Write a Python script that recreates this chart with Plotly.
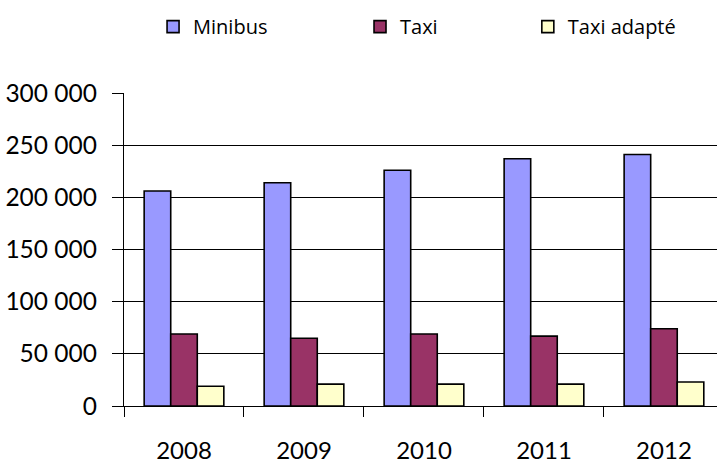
import plotly.graph_objects as go

years = ["2008", "2009", "2010", "2011", "2012"]
minibus = [206000, 214000, 226000, 237000, 241000]
taxi = [69000, 65000, 69000, 67000, 74000]
taxi_adapte = [19000, 21000, 21000, 21000, 23000]
y_ticks = [0, 50000, 100000, 150000, 200000, 250000, 300000]
y_tick_labels = ["0", "50 000", "100 000", "150 000", "200 000", "250 000", "300 000"]

FONT = "Lato, sans-serif"
LEG_FONT = "Open Sans, sans-serif"

fig = go.Figure()
fig.add_trace(go.Bar(x=years, y=minibus, name="Minibus", legend="legend", showlegend=True,
                     marker=dict(color="#9999FF", line=dict(color="#000000", width=1.6))))
fig.add_trace(go.Bar(x=years, y=taxi, name="Taxi", legend="legend2", showlegend=True,
                     marker=dict(color="#993366", line=dict(color="#000000", width=1.6))))
fig.add_trace(go.Bar(x=years, y=taxi_adapte, name="Taxi adapté", legend="legend3", showlegend=True,
                     marker=dict(color="#FFFFCC", line=dict(color="#000000", width=1.6))))

leg_common = dict(yanchor="middle", y=1.212, xanchor="left", orientation="h",
                  font=dict(family=LEG_FONT, size=20, color="#000000"),
                  bgcolor="rgba(0,0,0,0)", borderwidth=0, itemclick=False, visible=True)
fig.update_layout(
    width=717, height=465,
    showlegend=True,
    margin=dict(l=124, r=0, t=93, b=59, autoexpand=False),
    paper_bgcolor="white", plot_bgcolor="white",
    barmode="group", bargap=0.336, bargroupgap=0,
    font=dict(family=FONT, color="#000000"),
    legend=dict(x=0.049, **leg_common),
    legend2=dict(x=0.398, **leg_common),
    legend3=dict(x=0.681, **leg_common),
    xaxis=dict(
        type="category", range=[-0.5, 4.442], automargin=False,
        showline=True, linecolor="#000000", linewidth=1.3,
        ticks="outside", tickson="boundaries", ticklen=10, tickcolor="#000000", tickwidth=1.3,
        tickfont=dict(family=FONT, size=24, color="#000000"),
        ticklabelstandoff=23, showgrid=False,
    ),
    yaxis=dict(
        range=[0, 300000], tickvals=y_ticks, ticktext=y_tick_labels, automargin=False,
        showline=True, linecolor="#000000", linewidth=1.3,
        ticks="outside", ticklen=11, tickcolor="#000000", tickwidth=1.3,
        showgrid=True, gridcolor="#000000", gridwidth=1.3,
        zeroline=False,
        tickfont=dict(family=FONT, size=24.5, color="#000000"),
        ticklabelstandoff=10,
    ),
)

fig.write_html("out.html", config={"displayModeBar": False},
               post_script="document.body.style.margin='0';document.body.style.overflow='hidden';")
